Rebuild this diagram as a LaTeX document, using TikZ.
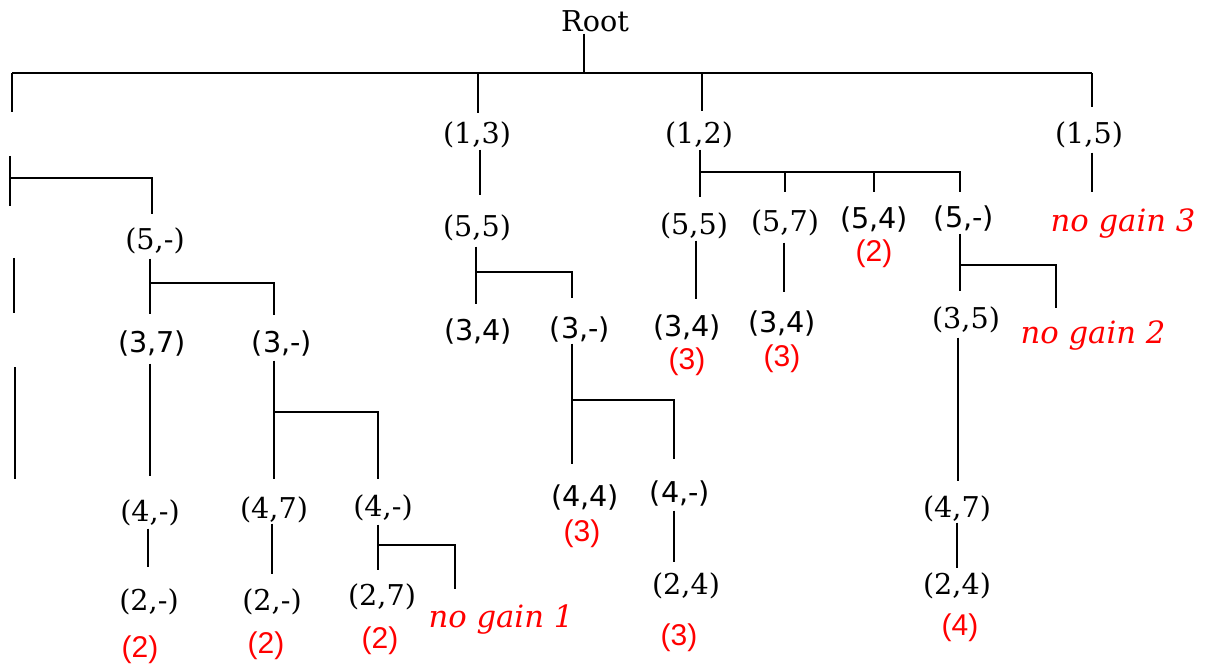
\documentclass[tikz,border=0pt]{standalone}
\usepackage{fontspec}
\newfontfamily\lblserif{DejaVu Serif}
\newfontfamily\lblsans{DejaVu Sans}
\newfontfamily\gainfont{Liberation Sans}
\newdimen\px \px=0.75pt
\begin{document}
\begin{tikzpicture}[x=0.75pt, y=-0.75pt, line width=1.4pt,
  lab/.style={inner sep=1pt, text height=17.5pt, text depth=2.5pt,
              font=\fontsize{21.5}{25}\lblserif},
  slab/.style={lab, font=\fontsize{21.5}{25}\lblsans},
  gain/.style={inner sep=1pt, text=red, font=\fontsize{22.5}{26}\gainfont},
  nogain/.style={inner sep=1pt, text height=17.5pt, text depth=2.5pt,
                 text=red, font=\fontsize{23}{27}\lblserif\itshape}]
\useasboundingbox (0,0) rectangle (1205,666);

% ---- labels ----
\node[lab] (root) at (595,22) {Root};
\node[lab] (n13) at (477,134) {(1,3)};
\node[lab] (n12) at (699,134) {(1,2)};
\node[lab] (n15) at (1089,134) {(1,5)};
\node[nogain] (ng3) at (1123,222) {no gain 3};

% left subtree
\node[lab]  (L5)  at (155,240) {(5,-)};
\node[slab] (L37) at (152,342) {(3,7)};
\node[slab] (L3)  at (282,342) {(3,-)};
\node[lab]  (L4a) at (150,511) {(4,-)};
\node[lab]  (L47) at (274,508) {(4,7)};
\node[lab]  (L4b) at (383,506) {(4,-)};
\node[lab]  (L2a) at (149,600) {(2,-)};
\node[lab]  (L2b) at (272,600) {(2,-)};
\node[lab]  (L27) at (382,595) {(2,7)};
\node[nogain] (ng1) at (501,617) {no gain 1};
\node[gain] (g1) at (140,650) {(2)};
\node[gain] (g2) at (266,646) {(2)};
\node[gain] (g3) at (380,641) {(2)};

% (1,3) subtree
\node[lab]  (M55) at (477,227) {(5,5)};
\node[slab] (M34) at (478,330) {(3,4)};
\node[slab] (M3)  at (580,328) {(3,-)};
\node[slab] (M44) at (585,496) {(4,4)};
\node[gain] (g4)  at (582,534) {(3)};
\node[slab] (M4)  at (680,492) {(4,-)};
\node[lab]  (M24) at (686,584) {(2,4)};
\node[gain] (g5)  at (679,638) {(3)};

% (1,2) subtree
\node[lab]  (R55)  at (694,225) {(5,5)};
\node[lab]  (R57)  at (785,222) {(5,7)};
\node[slab] (R54)  at (874,219) {(5,4)};
\node[gain] (g6)   at (874,254) {(2)};
\node[slab] (R5)   at (964,218) {(5,-)};
\node[slab] (R34a) at (687,326) {(3,4)};
\node[gain] (g7)   at (687,362) {(3)};
\node[slab] (R34b) at (782,322) {(3,4)};
\node[gain] (g8)   at (782,359) {(3)};
\node[lab]  (R35)  at (966,318) {(3,5)};
\node[nogain] (ng2) at (1093,334) {no gain 2};
\node[lab]  (R47)  at (957,507) {(4,7)};
\node[lab]  (R24)  at (957,584) {(2,4)};
\node[gain] (g9)   at (960,628) {(4)};

% ---- junction points of the brackets ----
\coordinate (t0) at (12,73);
\coordinate (t1) at (478,73);
\coordinate (tR) at (584,73);
\coordinate (t2) at (702,73);
\coordinate (t3) at (1092,73);
\coordinate (jl) at (10,178);
\coordinate (el) at (152,178);
\coordinate (jl5) at (150,283);
\coordinate (el5) at (274,283);
\coordinate (jl3) at (274,412);
\coordinate (el3) at (378,412);
\coordinate (jl4) at (378,545);
\coordinate (el4) at (455,545);
\coordinate (jm) at (476,272);
\coordinate (em) at (572,272);
\coordinate (jm3) at (572,400);
\coordinate (em3) at (674,400);
\coordinate (j12) at (700,172);
\coordinate (e12) at (960,172);
\coordinate (j5) at (960,265);
\coordinate (e5) at (1056,265);

% stubs of the leftmost column
\coordinate (s0) at (12,112);
\coordinate (s1a) at (10,156);  \coordinate (s1b) at (10,206);
\coordinate (s2a) at (14,258);  \coordinate (s2b) at (14,313);
\coordinate (s3a) at (15,367);  \coordinate (s3b) at (15,479);

% ---- top level ----
\draw[shorten <=-4\px] (tR |- root.south) -- (tR);
\draw (t0) -- (t3);
\draw (t0) -- (s0);
\draw[shorten >=5\px]  (t1) -- (t1 |- n13.north);
\draw[shorten >=7\px]  (t2) -- (t2 |- n12.north);
\draw[shorten >=11\px] (t3) -- (t3 |- n15.north);
\draw[shorten <=3\px, shorten >=14\px] (t3 |- n15.south) -- (t3 |- ng3.north);

% ---- left subtree ----
\draw (s1a) -- (s1b);
\draw (s2a) -- (s2b);
\draw (s3a) -- (s3b);
\draw[shorten >=10\px] (jl) -- (el) -- (el |- L5.north);
\draw[shorten <=3\px, shorten >=12\px] (jl5 |- L5.south) -- (jl5) -- (jl5 |- L37.north);
\draw[shorten >=11\px] (jl5) -- (el5) -- (el5 |- L3.north);
\draw[shorten <=6\px, shorten >=19\px] (jl5 |- L37.south) -- (jl5 |- L4a.north);
\draw[shorten <=3\px, shorten >=13\px] (jl3 |- L3.south) -- (jl3) -- (jl3 |- L47.north);
\draw[shorten >=11\px] (jl3) -- (el3) -- (el3 |- L4b.north);
\draw[shorten <=2\px, shorten >=17\px] (148,0 |- L4a.south) -- (148,0 |- L2a.north);
\draw[shorten >=10\px] (L2b |- L47.south) -- (L2b.north);
\draw[shorten <=3\px, shorten >=9\px] (jl4 |- L4b.south) -- (jl4) -- (jl4 |- L27.north);
\draw[shorten >=12\px] (jl4) -- (el4) -- (el4 |- ng1.north);

% ---- (1,3) subtree ----
\draw[shorten >=16\px] (480,0 |- n13.south) -- (480,0 |- M55.north);
\draw[shorten <=4\px, shorten >=10\px] (jm |- M55.south) -- (jm) -- (jm |- M34.north);
\draw[shorten >=14\px] (jm) -- (em) -- (em |- M3.north);
\draw[shorten >=16\px] (jm3 |- M3.south) -- (jm3) -- (jm3 |- M44.north);
\draw[shorten >=17\px] (jm3) -- (em3) -- (em3 |- M4.north);
\draw[shorten <=3\px, shorten >=6\px] (em3 |- M4.south) -- (em3 |- M24.north);

% ---- (1,2) subtree ----
\draw[shorten >=12\px] (j12 |- n12.south) -- (j12) -- (j12 |- R55.north);
\draw[shorten >=10\px] (j12) -- (e12) -- (e12 |- R5.north);
\draw[shorten >=14\px] (j12 -| R57) -- (R57.north);
\draw[shorten >=11\px] (j12 -| R54) -- (R54.north);
\draw[shorten >=11\px] (696,0 |- R55.south) -- (696,0 |- R34a.north);
\draw[shorten <=5\px, shorten >=14\px] (784,0 |- R57.south) -- (784,0 |- R34b.north);
\draw[shorten >=11\px] (j5 |- R5.south) -- (j5) -- (j5 |- R35.north);
\draw[shorten >=10\px] (j5) -- (e5) -- (e5 |- ng2.north);
\draw[shorten <=4\px, shorten >=10\px] (958,0 |- R35.south) -- (958,0 |- R47.north);
\draw (R47.south) -- (R47.south |- R24.north);
\end{tikzpicture}
\end{document}
